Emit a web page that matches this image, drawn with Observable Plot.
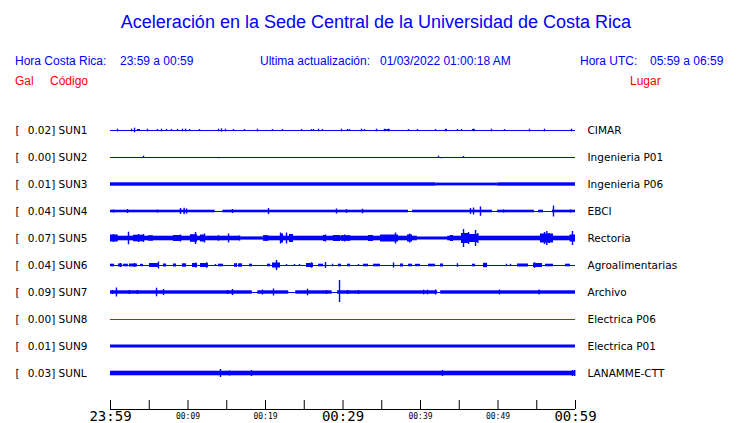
<!DOCTYPE html>
<html><head><meta charset="utf-8">
<script src="https://cdn.jsdelivr.net/npm/d3@7"></script>
<script src="https://cdn.jsdelivr.net/npm/@observablehq/plot@0.6"></script>
<style>
body{margin:0;background:#fff;}
#wrap{position:relative;width:740px;height:423px;overflow:hidden;background:#fff;}
#header{position:relative;width:740px;height:100px;font-family:"Liberation Sans",Arial,sans-serif;}
#header span{position:absolute;white-space:pre;line-height:1;}
#chart svg{display:block;}
</style></head>
<body><div id="wrap"><div id="header"></div><div id="chart"></div></div>
<script>
// ---------- texts ----------
const title = "Aceleración en la Sede Central de la Universidad de Costa Rica";
const infoLocal = ["Hora Costa Rica:", "23:59 a 00:59"];
const infoUpdate = ["Ultima actualización:", "01/03/2022 01:00:18 AM"];
const infoUTC = ["Hora UTC:", "05:59 a 06:59"];
const colHeads = ["Gal", "Código", "Lugar"];

// ---------- stations ----------
const stations = ["SUN1","SUN2","SUN3","SUN4","SUN5","SUN6","SUN7","SUN8","SUN9","SUNL"];
const places = ["CIMAR","Ingenieria P01","Ingenieria P06","EBCI","Rectoria","Agroalimentarias","Archivo","Electrica P06","Electrica P01","LANAMME-CTT"];
const peaks = ["0.02","0.00","0.01","0.04","0.07","0.04","0.09","0.00","0.01","0.03"];

// ---------- time axis (minutes after 23:59) ----------
const tickMinutes = [0,5,10,15,20,25,30,35,40,45,50,55,60];
const labelMinutes = [0,10,20,30,40,50,60];
const labelTexts = ["23:59","00:09","00:19","00:29","00:39","00:49","00:59"];
const majorLabel = [true,false,false,true,false,false,true];

// ---------- traces: envelopes ----------
// bands: [startMin, endMin, halfAmplitude]; spikes: [min, up, down]
const sun1Bands = [[3.48,3.87,1.0],[35.35,36.13,0.9],[43.23,43.48,1.0],[46.71,47.1,1.0]];
const sun1Spikes = [[0.9,1.3],[2.71,1.3],[3.1,2.3],[4.77,1.3],[6.06,1.0],[6.58,1.3],[7.23,1.0],[7.87,1.0],[8.65,1.0],[9.29,1.3],[9.68,1.3],[10.19,1.0],[11.48,1.0],[13.94,1.3],[14.32,1.6],[14.84,1.3],[15.87,1.0],[17.29,1.0],[18.97,1.3],[20.9,1.0],[22.19,1.0],[24.65,1.0],[25.94,1.0],[26.19,1.0],[26.84,1.3],[27.35,1.0],[29.81,1.3],[30.58,1.0],[30.84,1.0],[32.39,1.3],[32.77,1.0],[34.32,1.3],[35.35,1.3],[35.87,1.3],[38.45,1.0],[39.61,1.0],[41.94,1.0],[43.23,1.3],[44.77,1.0],[45.29,1.0],[46.84,1.3],[49.16,1.3],[50.84,1.0],[54.06,1.3],[56.0,1.3],[59.48,1.3]];

const sun2Bands = [];
const sun2Spikes = [[4.26,1.3,0],[13.94,0,1.3],[42.32,1.3,0],[42.71,0,1.3],[45.55,1.0,0]];

const sun3Bands = [[0,42,1.7],[42,50,1.4],[50,60,1.7]];
const sun3Spikes = [];

const sun4Bands = [[0,13.5,1.3],[14.5,38.45,1.3],[38.97,49.3,1.3],[49.94,54.7,1.3],[55.23,55.87,1.3],[57.03,60,1.3]];
const sun4Spikes = [[0.39,1.5],[2.19,2],[6.06,1.5],[9.03,3],[9.5,3.3],[9.81,2.5],[15.74,2],[20.39,3],[29.16,2.5],[30.45,1.8],[32.52,2.3],[46.45,3],[46.84,3.5],[47.74,4.5,4.8],[50.71,1.5],[57.16,5.5],[59.35,1.5]];

const sun5Bands = [[0,16.8,2.3],[16.8,19.7,1.6],[19.7,39.6,2.3],[39.6,43.5,1.5],[43.5,60,2.3],
  [0,1,3.5],[2.97,4.26,3.3],[4.9,5.55,2.7],[8.13,9.03,3],[10.32,11.23,3.8],[11.61,12.13,3.5],[19.74,20.26,2.8],[21.94,22.32,4.5],[23.1,23.61,4],[27.48,27.87,3],[28.77,29.68,3],[29.81,31,2.8],[33.29,33.94,3],[34.84,37.16,3.5],[38.32,38.97,3.5],[43.87,44.26,3],[45.29,46.19,5],[46.19,47.48,4],[55.48,57.16,4.5],[59.3,60,3.5]];
const sun5Spikes = [[0.39,4],[2.32,6.3],[3.61,4],[4.26,4],[9.03,3.5],[10.97,6],[12.13,4.5],[13.94,2.8],[15.23,4.5],[16.65,2.5],[20.26,3],[21.94,5.5],[22.71,5.5],[27.74,3.5],[30.2,3.5],[36.77,5.5],[38.6,4.5],[45.55,9],[46.2,6],[47.1,8],[47.4,5],[56.0,6],[56.3,7],[56.6,5],[59.61,7]];

const sun6Bands = [[0,0.52,1.3],[1.03,1.55,1.5],[1.68,2.32,1.3],[2.45,3.48,1.5],[3.87,4.26,1.2],[5.03,6.19,2],[6.84,7.23,1.5],[8.13,8.52,1.5],[9.29,9.81,1.7],[10.58,11.23,2],[11.61,12.65,2],[13.94,14.58,1.3],[16.0,16.39,1.8],[16.52,17.03,1.7],[17.94,18.32,1.3],[20.26,20.65,1.3],[20.9,21.94,2.5],[25.29,26.19,2],[26.84,27.48,1.3],[29.42,29.81,1.3],[30.58,30.97,1.3],[32.65,33.29,1.3],[33.94,34.84,1.3],[37.42,37.81,1.5],[38.45,38.97,1.3],[39.35,40.0,1.2],[41.03,41.94,1.3],[42.58,42.97,1.5],[46.71,47.1,1.3],[48.13,48.65,2.2],[52.52,53.94,1.5],[54.58,55.74,2],[56.13,57.16,1.3],[58.71,59.35,1.3]];
const sun6Spikes = [[1.29,2],[3.1,2],[6.19,3.5],[11.0,2.5],[12.4,2.8],[13.55,1],[21.42,5],[22.71,1],[23.74,1],[24.39,1],[25.94,2.7],[27.74,3],[28.65,1.3],[32.0,1],[36.52,2.5],[44.77,1.8],[51.1,1.2],[51.61,1.2],[54.71,2.8]];

const sun7Bands = [[0,18.3,1.7],[19.0,23.0,1.7],[23.9,28.6,1.7],[29.3,42.2,1.7],[42.6,60,1.7]];
const sun7Spikes = [[0.26,2],[0.77,4.5],[2.45,2],[3.48,2],[5.94,4.3],[6.84,3],[15.1,2],[15.74,3],[19.61,2.5],[21.03,3.5],[25.42,3.3],[27.87,2],[29.55,12,10],[30.58,2],[32.0,2],[40.4,2.3],[40.9,2.3],[41.94,2.5],[50.19,2.5],[55.3,2.5]];

const sun8Bands = [];
const sun8Spikes = [];

const sun9Bands = [[0,60,1.5]];
const sun9Spikes = [];

const sunLBands = [[0,60,2.3]];
const sunLSpikes = [[13.16,2],[14.19,4],[15.35,2.5],[18.19,3],[42.84,3],[59.61,3],[59.9,3]];

// ---------- styles ----------
const BLUE = "#0000ff", RED = "#ff0000";
const traceColors = [BLUE,BLUE,BLUE,BLUE,BLUE,BLUE,BLUE,RED,BLUE,BLUE];

// ---------- header (HTML) ----------
const header = document.getElementById("header");
function addSpan(txt, left, top, size, color, extra) {
  const s = document.createElement("span");
  s.textContent = txt;
  s.style.left = left + "px"; s.style.top = top + "px";
  s.style.fontSize = size + "px"; s.style.color = color;
  if (extra) Object.assign(s.style, extra);
  header.appendChild(s);
}
addSpan(title, 6, 13, 18, BLUE, {width: "740px", textAlign: "center", left: "6px"});
addSpan(infoLocal[0], 15, 55, 12, BLUE);
addSpan(infoLocal[1], 120, 55, 12, BLUE);
addSpan(infoUpdate[0], 260, 55, 12, BLUE);
addSpan(infoUpdate[1], 380, 55, 12, BLUE);
addSpan(infoUTC[0], 580, 55, 12, BLUE);
addSpan(infoUTC[1], 650, 55, 12, BLUE);
addSpan(colHeads[0], 15, 75, 12, RED);
addSpan(colHeads[1], 50, 75, 12, RED);
addSpan(colHeads[2], 630, 75, 12, RED);

// ---------- chart ----------
const allBands = [sun1Bands,sun2Bands,sun3Bands,sun4Bands,sun5Bands,sun6Bands,sun7Bands,sun8Bands,sun9Bands,sunLBands];
const allSpikes = [sun1Spikes,sun2Spikes,sun3Spikes,sun4Spikes,sun5Spikes,sun6Spikes,sun7Spikes,sun8Spikes,sun9Spikes,sunLSpikes];
const AMP = 1 / 27; // amplitude unit -> row units

const rows = stations.map((s, i) => ({i, station: s, place: places[i], peak: peaks[i], color: traceColors[i]}));
const bandData = allBands.flatMap((b, i) => b.map(([m0, m1, a]) => ({i, m0, m1, a, color: traceColors[i]})));
const spikeData = allSpikes.flatMap((sp, i) => sp.map(([m, up, down]) => ({i, m, up, down: down === undefined ? up : down, color: traceColors[i]})));

const AXIS_ROW = 9 + 36 / 27;   // axis line row position
const TICK_TOP = 9 + 27 / 27;
const labels = labelMinutes.map((m, k) => ({m, text: labelTexts[k], major: majorLabel[k]}));

const chart = Plot.plot({
  width: 740, height: 323,
  marginLeft: 110, marginRight: 165, marginTop: 20, marginBottom: 14,
  x: {domain: [0, 60], range: [110, 575], axis: null},
  y: {domain: [0, 9], range: [30, 273], axis: null},
  color: {type: "identity"},
  style: {fontFamily: "DejaVu Sans", fontSize: "10.5px", background: "white", color: "black", overflow: "visible"},
  marks: [
    Plot.ruleY(rows, {y: "i", x1: 0, x2: 60, stroke: "color", strokeWidth: 1}),
    Plot.rect(bandData, {x1: "m0", x2: "m1", y1: d => d.i - d.a * AMP, y2: d => d.i + d.a * AMP, fill: "color"}),
    Plot.ruleX(spikeData, {x: "m", y1: d => d.i - d.up * AMP, y2: d => d.i + d.down * AMP, stroke: "color", strokeWidth: 1.4}),
    Plot.text(rows, {y: "i", text: () => "[", frameAnchor: "left", dx: -95, textAnchor: "start", fill: "black"}),
    Plot.text(rows, {y: "i", text: d => d.peak + "] " + d.station, frameAnchor: "left", dx: -82.7, textAnchor: "start", fill: "black"}),
    Plot.text(rows, {y: "i", text: "place", frameAnchor: "right", dx: 12, textAnchor: "start", fill: "black"}),
    // time axis
    Plot.ruleY([AXIS_ROW], {x1: 0, x2: 60, stroke: "black", strokeWidth: 1}),
    Plot.ruleX(tickMinutes, {x: d => d, y1: TICK_TOP, y2: AXIS_ROW, stroke: "black", strokeWidth: 1}),
    Plot.text(labels.filter(d => d.major), {x: "m", y: AXIS_ROW, text: "text", lineAnchor: "top", dy: 2, fontFamily: "DejaVu Sans Mono", fontSize: 14, fill: "black"}),
    Plot.text(labels.filter(d => !d.major), {x: "m", y: AXIS_ROW, text: "text", lineAnchor: "top", dy: 3.5, fontFamily: "DejaVu Sans Mono", fontSize: 8, fill: "black"})
  ]
});
document.getElementById("chart").appendChild(chart);
</script>
</body></html>
